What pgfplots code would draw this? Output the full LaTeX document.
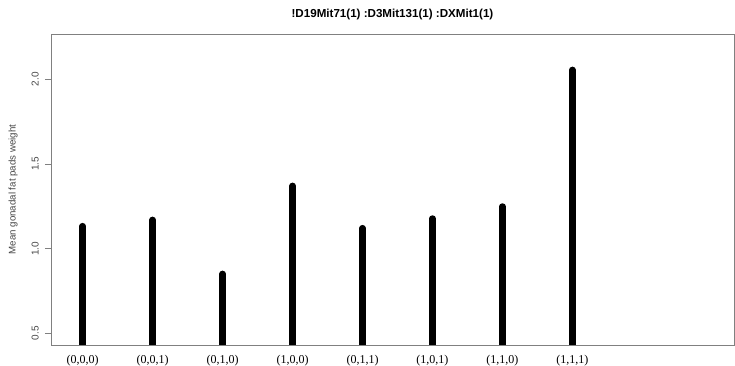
\documentclass[border=0pt]{standalone}
\usepackage{fontspec}
\setmainfont{Liberation Sans}
\newfontfamily\tnr{Liberation Serif}
\usepackage{pgfplots}
\pgfplotsset{compat=1.18}
\definecolor{axgray}{RGB}{128,128,128}
\definecolor{lblgray}{RGB}{70,70,70}
\begin{document}
\begin{tikzpicture}[x=1pt,y=1pt]
\useasboundingbox (-51,-21) rectangle (684,345);
\begin{axis}[
 at={(0,0)}, anchor=south west,
 scale only axis, width=683pt, height=311pt,
 xmin=0.547, xmax=10.31, ymin=0.431, ymax=2.268,
 axis line style={axgray, line width=0.8pt},
 ytick={0.5,1.0,1.5,2.0},
 yticklabels={0.5,1.0,1.5,2.0},
 ytick pos=left, tick align=outside, major tick length=6pt,
 ytick style={axgray, line width=0.8pt},
 yticklabel style={xshift=-6pt, rotate=90, anchor=south, inner sep=0pt, font=\fontsize{10}{12}\selectfont, text=lblgray},
 xtick={1,2,3,4,5,6,7,8},
 xticklabels={(0,0,0),(0,0,1),(0,1,0),(1,0,0),(0,1,1),(1,0,1),(1,1,0),(1,1,1)},
 xtick style={draw=none},
 xticklabel style={font=\tnr\fontsize{12}{14}\selectfont, anchor=base, inner sep=0pt, yshift=-12pt},
 title={!D19Mit71(1) :D3Mit131(1) :DXMit1(1)},
 title style={font=\bfseries\fontsize{11.6}{13}\selectfont, at={(axis description cs:0.5,1)}, anchor=center, yshift=13pt},
 ylabel={Mean gonadal fat pads weight},
 ylabel style={font=\fontsize{9.7}{11}\selectfont, text=lblgray, at={(axis description cs:-0.0556,0.5)}, anchor=center},
]
\addplot[ycomb, black, line width=6.5pt, line cap=round, mark=none] coordinates {
 (1,1.133) (2,1.170) (3,0.851) (4,1.371) (5,1.121) (6,1.178) (7,1.249) (8,2.056)
};
\end{axis}
\end{tikzpicture}
\end{document}
